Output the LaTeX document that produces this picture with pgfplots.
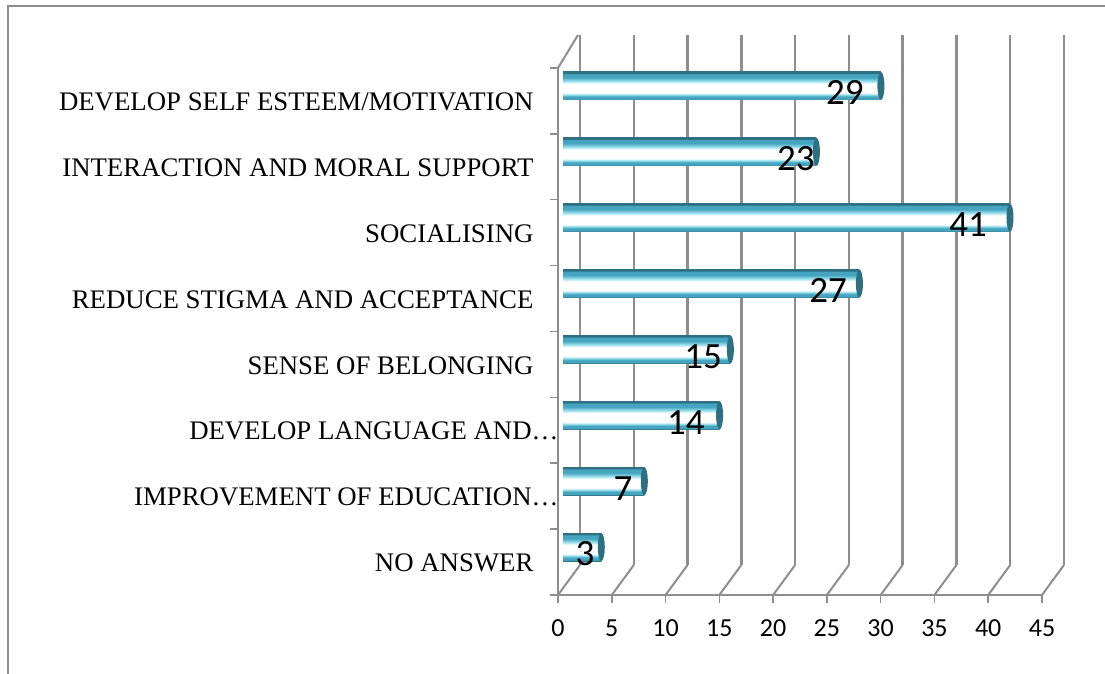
\documentclass[border=0pt]{standalone}
\usepackage{pgfplots}
\pgfplotsset{compat=1.18}
\usepackage{pgfplotstable}
\usepackage{fontspec}
\setmainfont{Liberation Serif}
\newfontfamily\carlito{Carlito}
\definecolor{gl}{HTML}{8E8E8E}
\definecolor{capc}{HTML}{2F6F82}
\definecolor{cylmid}{HTML}{45A5C0}
\definecolor{cyllight}{HTML}{A6E6F0}
\pgfdeclareverticalshading{cyl}{100bp}{%
 color(0bp)=(capc); color(25bp)=(capc);
 color(27bp)=(cylmid); color(31bp)=(cylmid); color(35bp)=(cyllight); color(38bp)=(white); color(54bp)=(white);
 color(58bp)=(cyllight); color(65bp)=(cylmid);
 color(71bp)=(cylmid); color(73bp)=(capc); color(100bp)=(capc)}
\pgfdeclareplotmark{barcap}{\pgfpathellipse{\pgfpointorigin}{\pgfqpoint{3.5bp}{0bp}}{\pgfqpoint{0bp}{14bp}}\pgfusepathqfill}
\pgfplotstableread{
y v lx
0.5 3 1.49
1.5 7 5.02
2.5 14 10.87
3.5 15 12.46
4.5 27 24.1
5.5 41 37.1
6.5 23 21.1
7.5 29 25.65
}\bardata
\newcommand\onebar[2]{%
 \addplot[xbar,bar shift=0pt,bar width=28bp,draw=none,shade,shading=cyl,forget plot] coordinates {(#1,#2)};
 \addplot[xbar,bar shift=0pt,bar width=28bp,draw=none,shade,shading=cyl,forget plot] coordinates {(-0.55,#2)};}
\begin{document}
\begin{tikzpicture}[x=1bp,y=1bp]
\useasboundingbox (0,0) rectangle (1105,674);
\fill[white] (0,0) rectangle (1105,674);
\draw[gl,line width=1.5bp] (8,0) -- (8,668) -- (1105,668);
% back wall
\begin{axis}[at={(580bp,109bp)},anchor=south west,scale only axis,width=484bp,height=530bp,
 xmin=0,xmax=45,ymin=0,ymax=1,axis line style={draw=none},tick style={draw=none},
 xtick={0,5,...,45},ytick=\empty,xticklabels={},
 xmajorgrids,grid style={gl,line width=2.5bp}]
\end{axis}
% front axes
\begin{axis}[at={(558bp,79bp)},anchor=south west,scale only axis,width=484bp,height=527bp,
 xmin=0,xmax=45,ymin=0,ymax=8,axis lines=left,clip=false,
 axis line style={gl,line width=2.5bp,-},
 xtick={0,5,...,45},ytick={0,...,8},yticklabels={},
 extra y ticks={0.5,1.5,2.5,3.5,4.5,5.5,6.5,7.5},
 extra y tick labels={NO ANSWER,IMPROVEMENT OF EDUCATION…\hspace{-25bp}\null,DEVELOP LANGUAGE AND…\hspace{-25bp}\null,SENSE OF BELONGING,REDUCE STIGMA AND ACCEPTANCE,SOCIALISING,INTERACTION AND MORAL SUPPORT,DEVELOP SELF ESTEEM/MOTIVATION},
 extra y tick style={tick style={draw=none}},
 tick align=outside,major tick length=8bp,
 tick style={gl,line width=1.5bp},
 /pgf/number format/assume math mode=true,
 x tick label style={font=\carlito\fontsize{26bp}{28bp}\selectfont,text height=17bp,text depth=0bp,yshift=-13bp},
 y tick label style={font=\fontsize{26.8bp}{28bp}\selectfont,xshift=-13bp,yshift=-1bp}]
\pgfplotsinvokeforeach{0,5,10,15,20,25,30,35,40,45}{
 \draw[gl,line width=2bp] (axis cs:#1,0) -- ++(22bp,30bp);}
\draw[gl,line width=2bp] (axis cs:0,8) -- ++(20bp,33bp);
\end{axis}
% bars, offset by the depth of the chart
\begin{axis}[at={(569bp,94bp)},anchor=south west,scale only axis,width=484bp,height=527bp,
 xmin=0,xmax=45,ymin=0,ymax=8,axis lines=none,clip=false]
\onebar{3}{0.5}
\onebar{7}{1.5}
\onebar{14}{2.5}
\onebar{15}{3.5}
\onebar{27}{4.5}
\onebar{41}{5.5}
\onebar{23}{6.5}
\onebar{29}{7.5}
\addplot[only marks,mark=barcap,mark options={fill=capc,draw=none},forget plot]
 table[x=v,y=y]{\bardata};
\addplot[draw=none,mark=none,nodes near coords,point meta=explicit symbolic,
 every node near coord/.style={anchor=center,yshift=-7bp,text=black,font=\carlito\fontsize{37bp}{39bp}\selectfont}]
 table[x=lx,y=y,meta=v]{\bardata};
\end{axis}
\end{tikzpicture}
\end{document}
